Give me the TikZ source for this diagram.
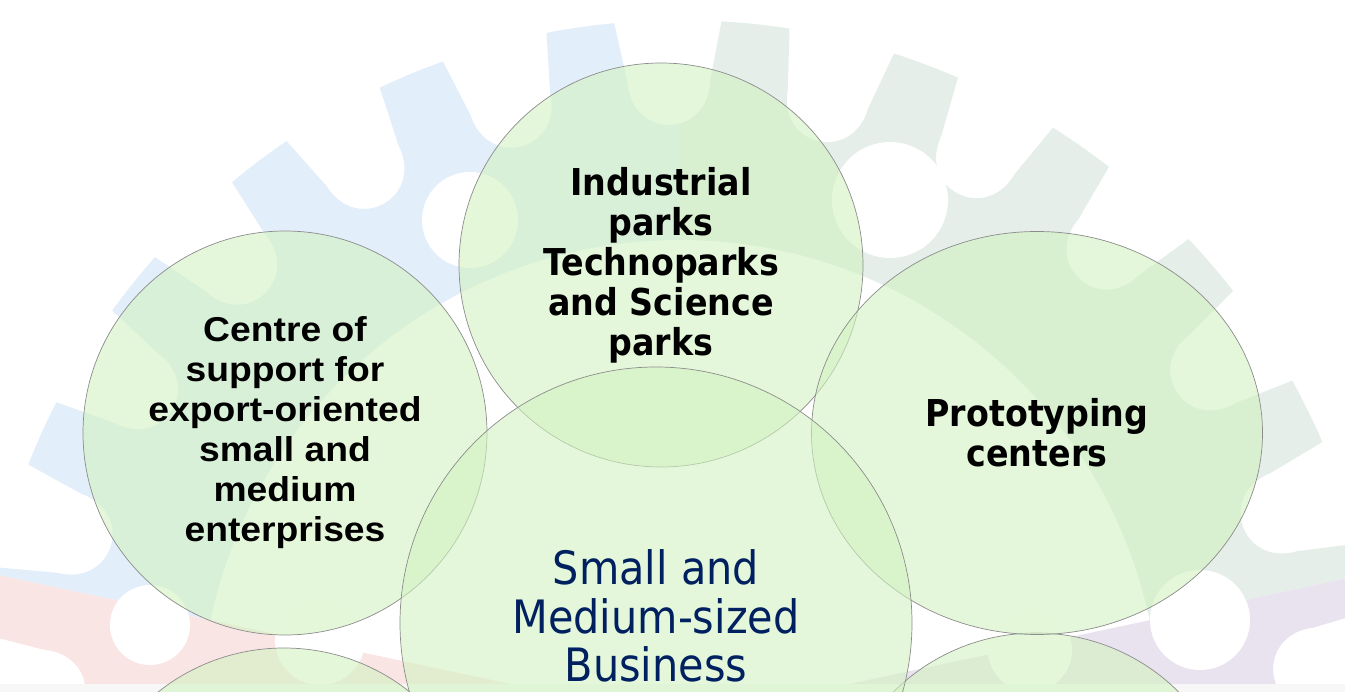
\documentclass[tikz,border=0pt]{standalone}
\usepackage{fontspec}
\setmainfont{DejaVu Sans}
\newfontfamily\tahomafont[FakeStretch=0.9]{DejaVu Sans}
\newfontfamily\arialfont[FakeStretch=1.08]{Liberation Sans}
\usetikzlibrary{shapes.geometric}

\definecolor{gearblue}{RGB}{226,238,250}
\definecolor{geargreen}{RGB}{229,238,232}
\definecolor{gearpink}{RGB}{250,229,229}
\definecolor{gearpurple}{RGB}{233,227,240}
\definecolor{bubblegreen}{RGB}{210,242,193}
\definecolor{navytext}{RGB}{0,32,96}

\tikzset{
    bubble/.style={circle, draw=black!45, line width=0.7pt, fill=bubblegreen,
        fill opacity=0.6, text opacity=1, inner sep=0pt, align=center,
        minimum size=404},
    tahomabold/.style={font=\tahomafont\bfseries\fontsize{37}{40}\selectfont},
    arialbold/.style={font=\arialfont\bfseries\fontsize{34.5}{40}\selectfont},
    hubtext/.style={font=\tahomafont\fontsize{46}{48.5}\selectfont, text=navytext, align=center}
}

\begin{document}
\begin{tikzpicture}[x=1pt,y=-1pt]
    \useasboundingbox (0,0) rectangle (1345,692);
    \clip (0,0) rectangle (1345,692);
    % cog in the background, four coloured quarters
    \begin{scope}[shift={(680,720)}, yscale=-1]
        \foreach \from/\to/\col/\rin in {12/90/geargreen/480, 90/168/gearblue/480, 168/270/gearpink/0, 270/372/gearpurple/0}{
            \begin{scope}
                \clip (0,0) -- (\from:900) arc[start angle=\from, end angle=\to, radius=900] -- cycle;
                \fill[\col, even odd rule] ({11.8-2.8}:700)
                    \foreach \k [evaluate=\k as \a using \k*14.4+11.8] in {0,...,24}{
                        arc[start angle={\a-2.8}, end angle={\a+2.8}, radius=700]
                        -- ({\a+3.5}:640) .. controls ({\a+3.4}:582) and ({\a+11}:582) .. ({\a+10.9}:640)
                        -- ({\a+11.6}:700)
                    } -- cycle
                    (0,0) circle[radius=\rin];
            \end{scope}
        }
    \end{scope}
    \fill[white] (470,220) circle[radius=48] (890,200) circle[radius=58]
        (1200,620) circle[radius=50] (1030,650) circle[radius=42]
        (320,640) circle[radius=45] (150,625) circle[radius=40];
    \fill[white!97!black] (0,684) rectangle (1345,692);

    \node[bubble] (lowleft) at (284,850) {};
    \node[bubble] (lowright) at (1036,835) {};
    \node[bubble, arialbold] (export) at (285,433)
        {Centre of\\support for\\export-oriented\\small and\\medium\\enterprises};
    \node[bubble, tahomabold] (parks) at (661,265)
        {Industrial\\parks\\Technoparks\\and Science\\parks};
    \node[bubble, ellipse, minimum width=451, minimum height=403, tahomabold] (proto) at (1037,433)
        {Prototyping\\centers};
    \node[bubble, minimum size=512] (smb) at (656,623) {};
    \node[hubtext] (smbtext) at ([yshift=7pt]smb.center)
        {Small and\\Medium-sized\\Business};
\end{tikzpicture}
\end{document}
